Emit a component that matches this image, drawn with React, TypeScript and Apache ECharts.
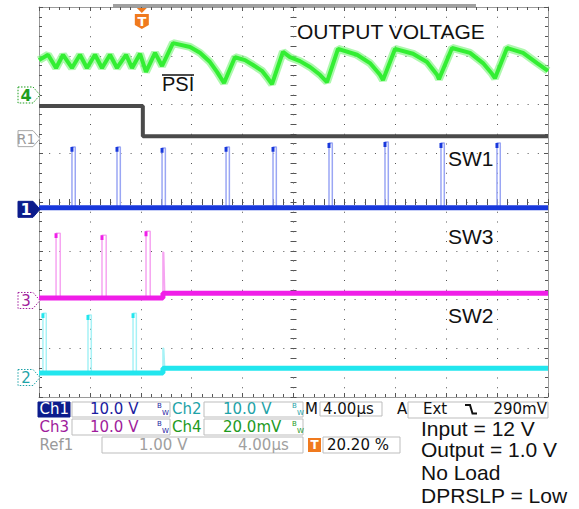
import React, { useEffect, useRef } from 'react';
import * as echarts from 'echarts';

// Time axis in µs relative to screen centre (4 µs/div, 10 div); vertical in divisions (8 div)
const TIME_MIN = -20;
const TIME_MAX = 20;
const TIME_DIV = 4;
const DIV_MIN = -4;
const DIV_MAX = 4;
const TRIGGER_PCT = 20.2;

// Ch4 – output voltage (divisions)
const ch4Output: [number, number][] = [
  [-20.0, 2.91], [-19.29, 3.02], [-18.66, 2.75], [-18.11, 3.02], [-17.41, 2.75], [-16.78, 3.02],
  [-16.23, 2.75], [-15.6, 3.02], [-15.05, 2.75], [-14.42, 3.02], [-13.87, 2.75], [-13.16, 3.02],
  [-12.69, 2.75], [-12.06, 3.04], [-11.59, 2.67], [-10.88, 3.06], [-10.33, 2.79], [-9.47, 3.26],
  [-8.13, 3.18], [-7.35, 3.06], [-6.56, 2.87], [-6.01, 2.67], [-5.46, 2.44], [-4.6, 2.97],
  [-3.81, 2.91], [-3.18, 2.81], [-2.48, 2.69], [-2.08, 2.56], [-1.69, 2.42], [-0.83, 3.08],
  [-0.28, 2.97], [0.51, 2.89], [1.3, 2.77], [2.08, 2.61], [2.63, 2.46], [3.5, 3.14],
  [4.99, 3.02], [6.01, 2.85], [6.8, 2.61], [7.03, 2.5], [7.98, 3.14], [9.39, 3.04],
  [10.49, 2.87], [11.28, 2.61], [11.43, 2.52], [12.46, 3.16], [13.87, 3.06], [14.89, 2.85],
  [15.6, 2.63], [15.83, 2.54], [16.78, 3.16], [18.04, 3.06], [19.14, 2.85], [20.0, 2.69],
];

// Ref1 – PSI# signal
const ref1Psi: [number, number][] = [[-20, 1.97], [-11.84, 1.97], [-11.84, 1.35], [20, 1.35]];

// Ch1 – SW1
const ch1Base: [number, number][] = [[-20, -0.12], [20, -0.12]];
const ch1PulseStart = [-17.41, -13.87, -10.33, -5.3, -1.61, 2.79, 7.19, 11.59, 15.99];
const ch1PulseTop = [1.13, 1.13, 1.11, 1.13, 1.13, 1.21, 1.23, 1.21, 1.21];
const ch1PulseWidth = 0.26;

// Ch3 – SW3
const ch3Base: [number, number][] = [[-20, -1.97], [-10.26, -1.97], [-10.26, -1.87], [20, -1.87]];
const ch3PulseStart = [-18.66, -15.05, -11.59];
const ch3PulseTop = [-0.64, -0.68, -0.6];
const ch3PulseWidth = 0.33;
const ch3Step: [number, number][] = [[-10.26, -1.97], [-10.26, -1.03], [-10.2, -1.03], [-10.12, -1.87]];

// Ch2 – SW2
const ch2Base: [number, number][] = [[-20, -3.51], [-10.26, -3.51], [-10.26, -3.41], [20, -3.41]];
const ch2PulseStart = [-19.69, -16.15, -12.61];
const ch2PulseTop = [-2.28, -2.32, -2.28];
const ch2PulseWidth = 0.26;
const ch2Step: [number, number][] = [[-10.26, -3.51], [-10.26, -3.0], [-10.2, -3.0], [-10.12, -3.41]];

// Channel ground markers (divisions)
const markerLevels = [2.195, 1.3, -0.15, -2.02, -3.6];
const markerLabels = ['4', 'R1', '1', '3', '2'];

const MARKER_STYLE = [
  { fill: '#ffffff', stroke: '#1f9e1f', text: '#1f9e1f', font: 'bold 16px "DejaVu Sans", sans-serif', dash: true },
  { fill: '#ffffff', stroke: '#a8a8a8', text: '#9a9a9a', font: '14px "DejaVu Sans", sans-serif', dash: false },
  { fill: '#0c1c8c', stroke: '#0c1c8c', text: '#ffffff', font: 'bold 16px "DejaVu Sans", sans-serif', dash: false },
  { fill: '#ffffff', stroke: '#a01c9c', text: '#a01c9c', font: '15px "DejaVu Sans", sans-serif', dash: true },
  { fill: '#ffffff', stroke: '#1fa3a8', text: '#1fa3a8', font: '15px "DejaVu Sans", sans-serif', dash: true },
];

function pulsePath(starts: number[], tops: number[], width: number, base: number) {
  const pts: any[] = [];
  starts.forEach((t0, i) => {
    pts.push([t0, base], [t0, tops[i]], [t0 + width, tops[i]], [t0 + width, base], null);
  });
  return pts;
}
function pulseHeads(starts: number[], tops: number[]) {
  const pts: any[] = [];
  starts.forEach((t0, i) => {
    pts.push([t0, tops[i]], [t0, tops[i] - 0.1], null);
  });
  return pts;
}

const PANEL_FONT = '"DejaVu Sans", Verdana, sans-serif';
const LABEL_FONT = '"Liberation Sans", Arial, Helvetica, sans-serif';

function txt(text: string, x: number, y: number, fill: string, size = 15, align = 'left', weight = 'normal', family = PANEL_FONT) {
  const lh = Math.round(size * 0.82);
  return {
    type: 'text', x, y, z: 100,
    style: { text, fill, font: `${weight} ${size}px ${family}`, lineHeight: lh, textAlign: align, textVerticalAlign: 'middle', align, verticalAlign: 'middle' },
  };
}
function box(x: number, y: number, w: number, h: number, stroke = '#bdbdbd', fill = 'none') {
  return { type: 'rect', z: 90, shape: { x, y, width: w, height: h }, style: { fill, stroke, lineWidth: 1 } };
}
function bw(x: number, y: number, color: string) {
  return [txt('B', x, y - 3, color, 7), txt('W', x + 5, y + 3.5, color, 7)];
}

export default function App() {
  const ref = useRef<HTMLDivElement>(null);
  useEffect(() => {
    document.body.style.margin = '0';
    const chart = echarts.init(ref.current!, undefined, { renderer: 'svg' });
    const tick = { color: '#555', width: 1 };
    const xBase = { type: 'value', min: TIME_MIN, max: TIME_MAX, interval: TIME_DIV, axisLabel: { show: false }, splitLine: { show: false } };
    const yBase = { type: 'value', min: DIV_MIN, max: DIV_MAX, interval: 1, axisLabel: { show: false }, splitLine: { show: false } };
    const centerX = (pos: string, split: boolean) => ({
      ...xBase, position: pos,
      axisLine: { show: false, onZero: true, onZeroAxisIndex: 0 },
      axisTick: { show: true, inside: true, length: 3, lineStyle: tick },
      minorTick: { show: true, splitNumber: 5, length: 3, lineStyle: tick },
      splitLine: { show: split, lineStyle: { color: '#555', width: 1, type: [1, 8.75] } },
    });
    const centerY = (pos: string, split: boolean) => ({
      ...yBase, position: pos,
      axisLine: { show: false, onZero: true, onZeroAxisIndex: 0 },
      axisTick: { show: true, inside: true, length: 3, lineStyle: tick },
      minorTick: { show: true, splitNumber: 5, length: 3, lineStyle: tick },
      splitLine: { show: split, lineStyle: { color: '#555', width: 1, type: [1, 9.18] } },
    });
    const borderX = (pos: string) => ({
      ...xBase, position: pos,
      axisLine: { show: true, onZero: false, lineStyle: { color: '#9a9a9a', width: 1 } },
      axisTick: { show: true, inside: true, length: 4, lineStyle: tick },
      minorTick: { show: true, splitNumber: 5, length: 3, lineStyle: tick },
    });
    const borderY = (pos: string) => ({
      ...yBase, position: pos,
      axisLine: { show: true, onZero: false, lineStyle: { color: '#9a9a9a', width: 1 } },
      axisTick: { show: true, inside: true, length: 4, lineStyle: tick },
      minorTick: { show: true, splitNumber: 5, length: 3, lineStyle: tick },
    });
    const line = (data: any[], color: string, width: number, z: number, opacity = 1) => ({
      type: 'line', data, xAxisIndex: 0, yAxisIndex: 0, symbol: 'none', showSymbol: false, silent: true,
      connectNulls: false, lineStyle: { color, width, opacity }, itemStyle: { color }, z,
    });
    const triggerT = TIME_MIN + (TIME_MAX - TIME_MIN) * TRIGGER_PCT / 100;
    const ORANGE = '#f07a1e';
    const R1Y = 409;

    const graphic: any[] = [
      { type: 'rect', z: 80, shape: { x: 113, y: 4, width: 363, height: 3 }, style: { fill: '#a0a0a0' } },
      txt('OUTPUT VOLTAGE', 297, 31, '#111', 21, 'left', 'normal', LABEL_FONT),
      txt('PSI', 162, 84, '#111', 20, 'left', 'normal', LABEL_FONT),
      { type: 'line', z: 100, shape: { x1: 162, y1: 75, x2: 194, y2: 75 }, style: { stroke: '#111', lineWidth: 1.5 } },
      txt('SW1', 448, 158, '#111', 21, 'left', 'normal', LABEL_FONT),
      txt('SW3', 448, 236, '#111', 21, 'left', 'normal', LABEL_FONT),
      txt('SW2', 448, 315.5, '#111', 21, 'left', 'normal', LABEL_FONT),
      txt('Input = 12 V', 421, 428.5, '#111', 21, 'left', 'normal', LABEL_FONT),
      txt('Output = 1.0 V', 421, 449.5, '#111', 21, 'left', 'normal', LABEL_FONT),
      txt('No Load', 421, 472, '#111', 21, 'left', 'normal', LABEL_FONT),
      txt('DPRSLP = Low', 421, 495, '#111', 21, 'left', 'normal', LABEL_FONT),
      // status panel row 1
      box(38, 402, 32, 15, '#0c1c8c', '#0c1c8c'),
      txt('Ch1', 39.5, R1Y, '#ffffff'),
      box(72, 402, 98, 15),
      txt('10.0 V', 90, R1Y, '#1c1ca0'),
      ...bw(157, R1Y, '#1c1ca0'),
      txt('Ch2', 172, R1Y, '#1fa3a8'),
      box(204, 402, 99, 15),
      txt('10.0 V', 223, R1Y, '#1fa3a8'),
      ...bw(292, R1Y, '#1fa3a8'),
      txt('M', 305, R1Y, '#111'),
      box(320, 402, 62, 14),
      txt('4.00µs', 323, R1Y, '#111'),
      txt('A', 397, R1Y, '#111'),
      box(408, 402, 140, 16),
      txt('Ext', 423, R1Y, '#111'),
      { type: 'polyline', z: 100, shape: { points: [[465, 405], [470, 405], [472.5, 413.5], [477, 413.5]] }, style: { stroke: '#111', lineWidth: 2, fill: 'none' } },
      txt('290mV', 547, R1Y, '#111', 15, 'right'),
      // row 2
      txt('Ch3', 39.5, 427, '#a01c9c'),
      box(72, 419, 98, 16),
      txt('10.0 V', 90, 427, '#a01c9c'),
      ...bw(157, 427, '#1c1ca0'),
      txt('Ch4', 172, 427, '#1e9a1e'),
      box(204, 419, 99, 16),
      txt('20.0mV', 223, 427, '#1e9a1e'),
      ...bw(292, 427, '#1e9a1e'),
      // row 3
      txt('Ref1', 39.5, 445, '#9a9a9a'),
      box(102, 437, 201, 16),
      txt('1.00 V', 139, 445, '#a0a0a0'),
      txt('4.00µs', 238, 445, '#a0a0a0'),
      { type: 'rect', z: 95, shape: { x: 308, y: 438, width: 13, height: 14 }, style: { fill: ORANGE } },
      txt('T', 314.5, 445, '#ffffff', 12, 'center', 'bold'),
      box(323, 437, 77, 16),
      txt('20.20 %', 327, 445, '#111'),
    ];

    chart.setOption({
      animation: false,
      backgroundColor: '#ffffff',
      grid: { left: 39, top: 7, width: 509, height: 390, containLabel: false },
      xAxis: [centerX('bottom', true), centerX('top', false), borderX('bottom'), borderX('top')],
      yAxis: [centerY('left', true), centerY('right', false), borderY('left'), borderY('right')],
      graphic,
      series: [
        line(ref1Psi, '#4a4a4a', 4, 5),
        line(ch4Output, '#8af58a', 8, 6, 0.7),
        line(ch4Output, '#33ee33', 4, 7),
        line(ch1Base, '#1838dc', 5, 5),
        line(pulsePath(ch1PulseStart, ch1PulseTop, ch1PulseWidth, -0.12), '#9aa6f4', 1.5, 4),
        line(pulseHeads(ch1PulseStart, ch1PulseTop), '#1838dc', 3, 6),
        line(ch3Base, '#f01ee8', 5, 5),
        line(pulsePath(ch3PulseStart, ch3PulseTop, ch3PulseWidth, -1.97), '#f6a4f1', 1.5, 4),
        line(ch3Step, '#f6a4f1', 1.5, 4),
        line(pulseHeads(ch3PulseStart, ch3PulseTop), '#f01ee8', 3, 6),
        line(ch2Base, '#22e6ee', 5, 5),
        line(pulsePath(ch2PulseStart, ch2PulseTop, ch2PulseWidth, -3.51), '#a6f2f6', 1.5, 4),
        line(ch2Step, '#a6f2f6', 1.5, 4),
        line(pulseHeads(ch2PulseStart, ch2PulseTop), '#22e6ee', 3, 6),
        {
          type: 'custom', xAxisIndex: 0, yAxisIndex: 0, clip: false, silent: true, z: 20,
          data: markerLevels.map((v) => [TIME_MIN, v]),
          renderItem: (params: any, api: any) => {
            const i = params.dataIndex;
            const p = api.coord([api.value(0), api.value(1)]);
            const tip = p[0] + 1;
            const cy = p[1];
            const st = MARKER_STYLE[i];
            return {
              type: 'group',
              children: [
                {
                  type: 'polygon',
                  shape: { points: [[tip - 22, cy - 8], [tip - 7, cy - 8], [tip, cy], [tip - 7, cy + 8], [tip - 22, cy + 8]] },
                  style: { fill: st.fill, stroke: st.stroke, lineWidth: 1, lineDash: st.dash ? [1.5, 1.5] : null },
                },
                {
                  type: 'text',
                  style: { text: markerLabels[i], x: tip - 14, y: cy + 0.5, fill: st.text, font: st.font, align: 'center', verticalAlign: 'middle', textAlign: 'center', textVerticalAlign: 'middle' },
                },
              ],
            };
          },
        },
        {
          type: 'custom', xAxisIndex: 0, yAxisIndex: 0, clip: false, silent: true, z: 20,
          data: [[triggerT, DIV_MAX]],
          renderItem: (params: any, api: any) => {
            const p = api.coord([api.value(0), api.value(1)]);
            const x = p[0];
            const y = p[1];
            return {
              type: 'group',
              children: [
                { type: 'polygon', shape: { points: [[x - 5, y + 1], [x + 5, y + 1], [x, y + 6]] }, style: { fill: ORANGE } },
                { type: 'polygon', shape: { points: [[x - 7, y + 7], [x + 7, y + 7], [x + 7, y + 18], [x, y + 22], [x - 7, y + 18]] }, style: { fill: ORANGE } },
                { type: 'text', style: { text: 'T', x, y: y + 14.5, fill: '#fff', font: 'bold 13px "DejaVu Sans", sans-serif', align: 'center', verticalAlign: 'middle', textAlign: 'center', textVerticalAlign: 'middle' } },
              ],
            };
          },
        },
      ],
    });
    return () => chart.dispose();
  }, []);
  return <div ref={ref} style={{ width: 579, height: 509 }} />;
}
